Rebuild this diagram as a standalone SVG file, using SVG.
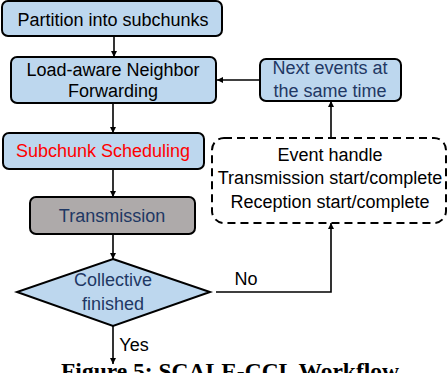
<svg xmlns="http://www.w3.org/2000/svg" width="448" height="373" viewBox="0 0 448 373">
  <style>
    .box { fill: #BDD7EE; stroke: #000; stroke-width: 2; }
    .gray { fill: #AEAAAA; stroke: #000; stroke-width: 2; }
    .dash { fill: #fff; stroke: #000; stroke-width: 2; stroke-dasharray: 8 5; }
    .t { font-family: "Liberation Sans", Arial, sans-serif; font-size: 18px; text-anchor: middle; fill: #000; }
    .navy { fill: #1F3864; }
    .red { fill: #FF0000; }
    .conn { fill: none; stroke: #000; stroke-width: 1.6; }
    .cap { font-family: "Liberation Serif", "Times New Roman", serif; font-weight: bold; font-size: 23.5px; fill: #000; }
  </style>
  <defs>
    <marker id="arr" viewBox="0 0 10 10" refX="10" refY="5" markerWidth="4" markerHeight="4" orient="auto" markerUnits="strokeWidth">
      <path d="M0,0 L10,5 L0,10 z" fill="#000"/>
    </marker>
  </defs>
  <rect width="448" height="373" fill="#fff"/>

  <g id="connectors">
    <line class="conn" x1="114" y1="36" x2="114" y2="57" marker-end="url(#arr)"/>
    <line class="conn" x1="113" y1="103" x2="113" y2="133" marker-end="url(#arr)"/>
    <line class="conn" x1="113" y1="169" x2="113" y2="197" marker-end="url(#arr)"/>
    <line class="conn" x1="113" y1="234" x2="113" y2="259" marker-end="url(#arr)"/>
    <line class="conn" x1="113" y1="326" x2="113" y2="364" marker-end="url(#arr)"/>
    <polyline class="conn" points="216,292 331,292 331,223" marker-end="url(#arr)"/>
    <line class="conn" x1="331" y1="138" x2="331" y2="101" marker-end="url(#arr)"/>
    <line class="conn" x1="260" y1="80" x2="217" y2="80" marker-end="url(#arr)"/>
    <text class="t" x="246" y="285">No</text>
    <text class="t" x="134" y="351">Yes</text>
  </g>

  <g id="partition">
    <rect class="box" x="2" y="1" width="220" height="35" rx="6"/>
    <text class="t" x="113" y="26">Partition into subchunks</text>
  </g>

  <g id="forwarding">
    <rect class="box" x="11" y="57" width="205" height="46" rx="6"/>
    <text class="t" x="113" y="76">Load-aware Neighbor</text>
    <text class="t" x="113" y="97">Forwarding</text>
  </g>

  <g id="scheduling">
    <rect class="box" x="3" y="133" width="201" height="36" rx="6"/>
    <text class="t red" x="103" y="157">Subchunk Scheduling</text>
  </g>

  <g id="transmission">
    <rect class="gray" x="30" y="197" width="165" height="37" rx="6"/>
    <text class="t navy" x="112" y="222">Transmission</text>
  </g>

  <g id="finished">
    <polygon class="box" points="113,259 210,292 113,326 17,292"/>
    <text class="t navy" x="113" y="286">Collective</text>
    <text class="t navy" x="113" y="310">finished</text>
  </g>

  <g id="next-events">
    <rect class="box" x="260" y="59" width="141" height="42" rx="6"/>
    <text class="t navy" x="330" y="74">Next events at</text>
    <text class="t navy" x="330" y="97">the same time</text>
  </g>

  <g id="event-handle">
    <rect class="dash" x="212" y="138" width="234" height="85" rx="12"/>
    <text class="t" x="330" y="161">Event handle</text>
    <text class="t" x="330" y="184">Transmission start/complete</text>
    <text class="t" x="330" y="208">Reception start/complete</text>
  </g>

  <text class="cap" x="230" y="379" text-anchor="middle">Figure 5: SCALE-CCL Workflow</text>
</svg>
